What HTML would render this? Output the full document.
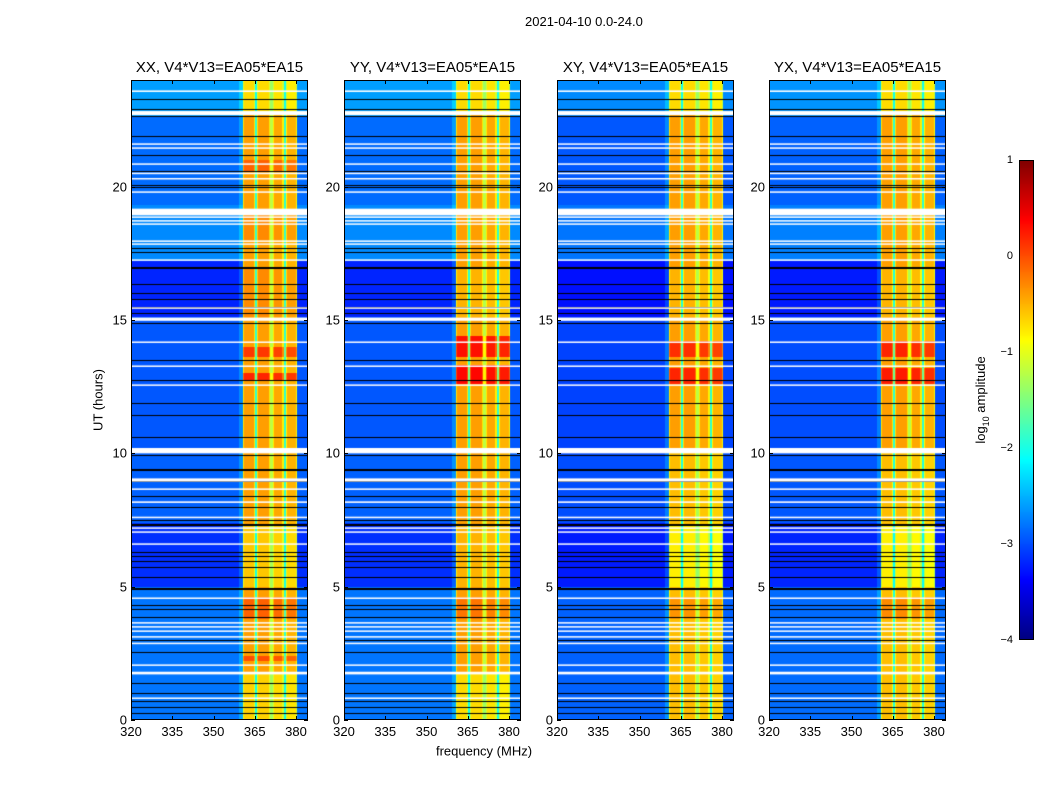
<!DOCTYPE html>
<html><head><meta charset="utf-8">
<style>
body{margin:0;background:#fff;width:1050px;height:800px;overflow:hidden;position:relative;font-family:"Liberation Sans",sans-serif;}
.t{position:absolute;white-space:nowrap;color:#000;}
canvas{position:absolute;}
.frame{position:absolute;border:1px solid #000;box-sizing:border-box;}
</style></head>
<body>
<div class="t" style="left:525px;top:14px;font-size:13px;">2021-04-10 0.0-24.0</div>
<div class="t" style="left:98px;top:400px;font-size:13px;transform:translate(-50%,-50%) rotate(-90deg);">UT (hours)</div>
<div class="t" style="left:484px;top:751px;font-size:13px;transform:translate(-50%,-50%);">frequency (MHz)</div>
<div class="t" style="left:982px;top:400px;font-size:13px;transform:translate(-50%,-50%) rotate(-90deg);">log<sub style="font-size:9px">10</sub> amplitude</div>
<div id="root"></div>
<script>
// ---- data ----
const panelTitles = ["XX, V4*V13=EA05*EA15","YY, V4*V13=EA05*EA15","XY, V4*V13=EA05*EA15","YX, V4*V13=EA05*EA15"];
const yTicks = [0,5,10,15,20];
const xTicks = [320,335,350,365,380];
const cbTicks = [1,0,-1,-2,-3,-4];
// RFI band blocks in MHz [start, end, level]
const bandBlocks = [[360.7,365.1,-0.4],[365.9,370.6,-0.4],[371.6,375.5,-0.45],[376.4,380.4,-0.5]];
const bandGaps = [[365.1,365.9,-1.9],[370.6,371.6,-1.2],[375.5,376.4,-1.9]];
// background level by time [t0,t1,level]
const bgSegments = [[22.6,24,-2.6],[19.3,22.6,-2.85],[17.2,19.3,-2.7],[15.1,17.2,-3.2],[10.2,15.1,-2.95],[7.4,10.2,-2.9],[5.0,7.4,-3.15],[0,5,-2.8]];
const bgOffset = [0,0,-0.1,-0.05];
// band intensity changes by time per panel [t0,t1,delta]
const bandDelta1 = [[22.8,24,-0.3],[20.6,21.0,0.3],[18.0,19.0,0.1],[13.6,14.0,0.5],[12.7,13.0,0.6],[15.1,17.0,0.1],[5.0,7.3,-0.2],[3.8,4.6,0.3],[2.2,2.4,0.4],[0,1.8,-0.25]];
const bandDelta2 = [[22.8,24,-0.3],[13.6,14.4,0.7],[12.6,13.3,0.75],[15.1,17.0,-0.1],[5.0,7.3,-0.1],[3.8,4.6,0.2],[0,1.8,-0.3]];
const bandDelta3 = [[22.8,24,-0.3],[13.6,14.2,0.55],[12.6,13.2,0.6],[15.1,17.0,-0.1],[5.0,7.3,-0.25],[3.8,4.6,0.2],[0,10,-0.15]];
const bandDelta4 = [[22.8,24,-0.3],[13.6,14.2,0.6],[12.6,13.2,0.65],[15.1,17.0,-0.1],[5.0,7.3,-0.25],[3.8,4.6,0.25],[0,10,-0.15]];
const bandDeltas = [bandDelta1,bandDelta2,bandDelta3,bandDelta4];
// flagged (white) rows [center hour, thickness hours]
const whiteRows = [[23.58,0.06],[22.76,0.15],[21.6,0.05],[21.45,0.05],[20.85,0.05],[20.5,0.05],[20.3,0.05],[19.8,0.05],[19.05,0.25],[18.86,0.05],[18.72,0.05],[18.6,0.05],[17.96,0.05],[17.85,0.05],[17.25,0.05],[15.45,0.05],[15.03,0.12],[14.17,0.05],[13.27,0.05],[12.56,0.05],[10.1,0.2],[9.0,0.12],[8.66,0.05],[8.17,0.06],[7.6,0.05],[7.2,0.05],[7.05,0.05],[6.6,0.05],[4.57,0.05],[3.65,0.04],[3.5,0.04],[3.34,0.04],[3.12,0.05],[2.88,0.04],[2.06,0.05],[1.76,0.1],[0.82,0.05]];
const blackRows = [23.3,22.9,22.65,21.9,21.2,20.6,20.05,20.0,17.7,17.55,17.0,16.95,16.35,16.0,15.78,15.5,15.25,14.9,13.5,12.75,11.9,11.44,10.62,9.93,9.4,9.37,8.95,8.4,8.0,7.5,7.35,7.3,6.3,6.15,5.95,5.75,5.35,4.95,4.9,4.3,4.15,3.87,3.85,3.0,2.55,1.4,1.0,0.7,0.5,0.27];

// ---- scales ----
const PX=[131,344,557,769], PY=80, PW=177, PH=640;
const xs = f => (f-320)*2.75;
const ys = h => PH - h*PH/24;
function jet(v){const x=Math.max(0,Math.min(1,(v+4)/5));const c=t=>Math.round(255*Math.max(0,Math.min(1,1.5-Math.abs(t))));return [c(4*x-3),c(4*x-2),c(4*x-1)];}
function segVal(list,h,def){for(const s of list){if(h>=s[0]&&h<s[1])return s[2];}return def;}
function segSum(list,h){let d=0;for(const s of list){if(h>=s[0]&&h<s[1])d+=s[2];}return d;}

const root=document.getElementById('root');
PX.forEach((px,p)=>{
  const cv=document.createElement('canvas');
  cv.width=PW;cv.height=PH;cv.style.left=px+'px';cv.style.top=PY+'px';
  
  
  root.appendChild(cv);
  const ctx=cv.getContext('2d');
  const img=ctx.createImageData(PW,PH);
  for(let y=0;y<PH;y++){
    const h=24-(y+0.5)*24/PH;
    const bg=segVal(bgSegments,h,-2.9)+bgOffset[p];
    const bd=segSum(bandDeltas[p],h);
    for(let x=0;x<PW;x++){
      const f=320+(x+0.5)/2.75;
      let v=bg;
      if(f>359.3&&f<360.7)v=bg+0.25;
      for(const b of bandBlocks){if(f>=b[0]&&f<b[1]){const edge=Math.min(f-b[0],b[1]-f)<0.45;v=b[2]+bd-(edge?0.35:0);}}
      for(const g of bandGaps){if(f>=g[0]&&f<g[1])v=g[2]+bd*0.5;}
      const c=jet(v);const i=(y*PW+x)*4;
      img.data[i]=c[0];img.data[i+1]=c[1];img.data[i+2]=c[2];img.data[i+3]=255;
    }
  }
  ctx.putImageData(img,0,0);
  ctx.fillStyle='#000';
  blackRows.forEach(t=>{ctx.fillRect(0,Math.round(ys(t)),PW,1);});
  ctx.fillStyle='#fff';
  whiteRows.forEach(w=>{const y0=ys(w[0]+w[1]/2),y1=ys(w[0]-w[1]/2);ctx.fillRect(0,y0,PW,Math.max(1.5,y1-y0));});

  const fr=document.createElement('div');fr.className='frame';
  fr.style.cssText=`left:${px}px;top:${PY}px;width:${PW}px;height:${PH}px;`;
  
  
  root.appendChild(fr);

  const tt=document.createElement('div');tt.className='t';tt.textContent=panelTitles[p];
  tt.style.cssText=`left:${px+PW/2}px;top:59px;font-size:15px;transform:translateX(-50%);`;
  
  
  root.appendChild(tt);

  yTicks.forEach(v=>{
    const l=document.createElement('div');l.className='t';l.textContent=v;
    l.style.cssText=`left:${px-4}px;top:${PY+ys(v)}px;font-size:13px;transform:translate(-100%,-50%);`;
    
    
    root.appendChild(l);
    [0,PW-4].forEach(ox=>{const k=document.createElement('div');k.style.cssText=`position:absolute;left:${px+ox}px;top:${PY+ys(v)}px;width:4px;height:1px;background:#000;`;
      
      
      root.appendChild(k);});
  });
  xTicks.forEach(v=>{
    const l=document.createElement('div');l.className='t';l.textContent=v;
    l.style.cssText=`left:${px+xs(v)}px;top:${PY+PH+4}px;font-size:13px;transform:translateX(-50%);`;
    
    
    root.appendChild(l);
    [0,PH-4].forEach(oy=>{const k=document.createElement('div');k.style.cssText=`position:absolute;left:${px+xs(v)}px;top:${PY+oy}px;width:1px;height:4px;background:#000;`;
      
      
      root.appendChild(k);});
  });
});

// colorbar
const CBX=1019,CBY=160,CBW=15,CBH=480;
const cb=document.createElement('canvas');cb.width=CBW;cb.height=CBH;cb.style.left=CBX+'px';cb.style.top=CBY+'px';


root.appendChild(cb);
const cctx=cb.getContext('2d');
for(let y=0;y<CBH;y++){const c=jet(1-(y+0.5)*5/CBH);cctx.fillStyle=`rgb(${c[0]},${c[1]},${c[2]})`;cctx.fillRect(0,y,CBW,1);}
const cbf=document.createElement('div');cbf.className='frame';cbf.style.cssText=`left:${CBX}px;top:${CBY}px;width:${CBW}px;height:${CBH}px;`;


root.appendChild(cbf);
cbTicks.forEach(v=>{
  const y=CBY+(1-v)*CBH/5;
  const l=document.createElement('div');l.className='t';l.textContent=v<0?'\u2212'+(-v):v;
  l.style.cssText=`left:${CBX-6}px;top:${y}px;font-size:11px;transform:translate(-100%,-50%);`;
  
  
  root.appendChild(l);
});
</script>
</body></html>
